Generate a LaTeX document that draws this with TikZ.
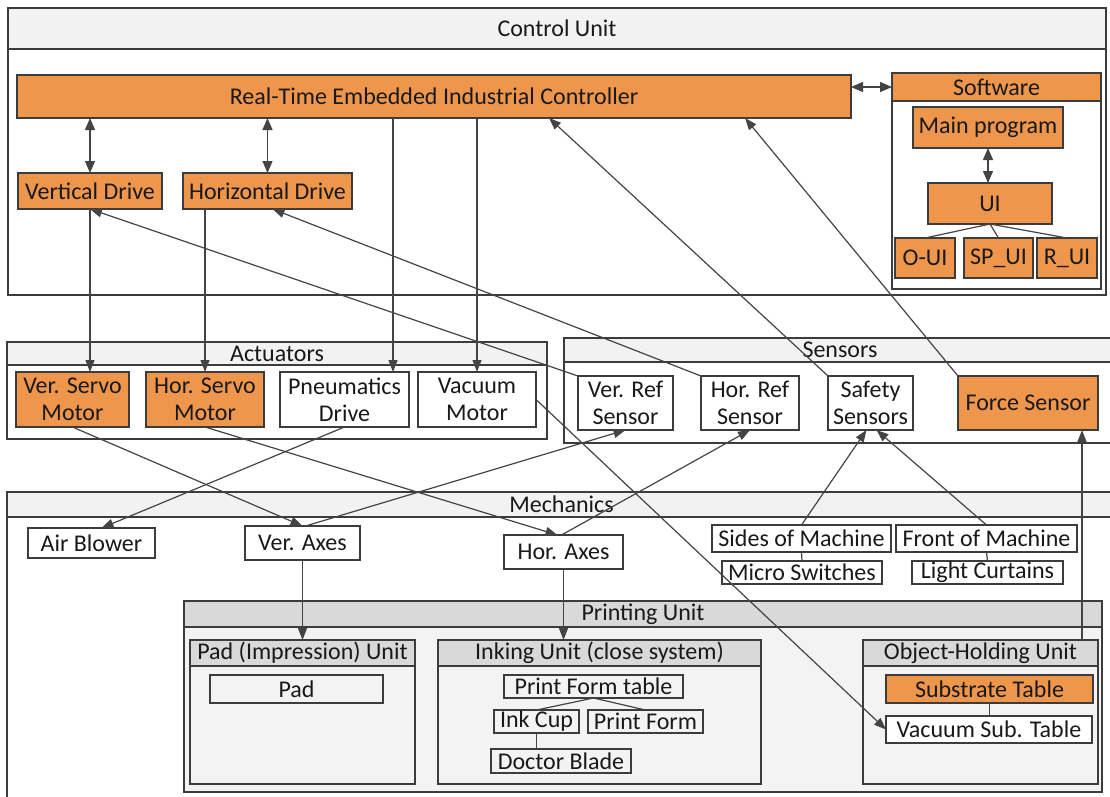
\documentclass[tikz,border=0pt]{standalone}
\usepackage{fontspec}
\setmainfont{Carlito}
\usetikzlibrary{arrows.meta}
\definecolor{orng}{RGB}{238,150,76}
\definecolor{hdrl}{RGB}{242,242,242}
\definecolor{hdrd}{RGB}{217,217,217}
\definecolor{pbg}{RGB}{243,243,243}
\definecolor{linec}{RGB}{60,60,60}
\definecolor{arrc}{RGB}{68,68,68}
\newcommand\bx[7]{\node[#6,anchor=north west,minimum width={#4pt-#2pt},minimum height={#5pt-#3pt}] (#1) at (#2,#3) {#7};}
\tikzset{
  base/.style={draw=linec,line width=1.3pt,inner sep=0.5pt,outer sep=0pt,align=center,text=black!90,font=\fontsize{24}{27}\selectfont},
  cont/.style={base,fill=white},
  box/.style={base,fill=white},
  obox/.style={base,fill=orng},
  hdrlt/.style={base,fill=hdrl},
  hdrdk/.style={base,fill=hdrd},
  pbody/.style={base,fill=pbg},
  ibox/.style={base,fill=pbg},
  arr/.style={draw=arrc,line width=1.2pt,-{Triangle[length=12pt,width=9pt]}},
  dbl/.style={draw=arrc,line width=1.2pt,{Triangle[length=12pt,width=10pt]}-{Triangle[length=12pt,width=10pt]}},
  tree/.style={draw=arrc,line width=1.2pt}
}
\begin{document}
\begin{tikzpicture}[x=1pt,y=-1pt]
\useasboundingbox (0,0) rectangle (1110,796);
\fill[white] (0,0) rectangle (1110,796);
% Control unit
\bx{cu}{8}{8}{1106}{295}{cont}{}
\bx{cuh}{8}{8}{1106}{49}{hdrlt}{Control Unit}
\bx{rt}{17}{75}{851}{118}{obox}{Real-Time Embedded Industrial Controller}
\bx{sw}{892}{73}{1101}{289}{cont}{}
\bx{swh}{892}{73}{1101}{101}{obox}{Software}
\bx{mp}{913}{107}{1063}{148}{obox}{Main program}
\bx{ui}{928}{183}{1052}{224}{obox}{UI}
\bx{oui}{895}{238}{955}{278}{obox}{O-UI}
\bx{spui}{964}{238}{1033}{278}{obox}{SP\_UI}
\bx{rui}{1037}{238}{1097}{278}{obox}{R\_UI}
\bx{vd}{18}{173}{162}{209}{obox}{Vertical Drive}
\bx{hd}{183}{173}{352}{209}{obox}{Horizontal Drive}
% Actuators
\bx{act}{7}{342}{547}{439}{cont}{}
\bx{acth}{7}{342}{547}{365}{hdrlt}{Actuators}
\bx{vsm}{16}{372}{129}{427}{obox}{Ver. Servo\\Motor}
\bx{hsm}{146}{372}{264}{427}{obox}{Hor. Servo\\Motor}
\bx{pd}{280}{372}{409}{427}{box}{Pneumatics\\Drive}
\bx{vm}{418}{372}{536}{427}{box}{Vacuum\\Motor}
% Sensors
\bx{sen}{564}{338}{1116}{443}{cont}{}
\bx{senh}{564}{338}{1116}{362}{hdrlt}{Sensors}
\bx{vrs}{578}{376}{673}{430}{box}{Ver. Ref\\Sensor}
\bx{hrs}{701}{376}{799}{430}{box}{Hor. Ref\\Sensor}
\bx{ss}{828}{376}{913}{430}{box}{Safety\\Sensors}
\bx{fs}{958}{376}{1098}{430}{obox}{Force Sensor}
% Mechanics
\bx{mech}{7}{492}{1116}{810}{cont}{}
\bx{mechh}{7}{492}{1116}{517}{hdrlt}{Mechanics}
\bx{ab}{28}{528}{155}{558}{box}{Air Blower}
\bx{va}{245}{526}{360}{560}{box}{Ver. Axes}
\bx{ha}{504}{535}{623}{569}{box}{Hor. Axes}
\bx{sm}{712}{525}{891}{552}{box}{Sides of Machine}
\bx{fm}{896}{525}{1077}{552}{box}{Front of Machine}
\bx{ms}{722}{561}{882}{584}{box}{Micro Switches}
\bx{lc}{912}{561}{1063}{584}{box}{Light Curtains}
% Printing unit
\bx{pu}{184}{601}{1102}{792}{pbody}{}
\bx{puh}{184}{601}{1102}{627}{hdrdk}{Printing Unit}
\bx{padu}{190}{640}{415}{784}{pbody}{}
\bx{paduh}{190}{640}{415}{666}{hdrdk}{Pad (Impression) Unit}
\bx{pad}{210}{675}{383}{703}{ibox}{Pad}
\bx{iu}{438}{640}{761}{784}{pbody}{}
\bx{iuh}{438}{640}{761}{666}{hdrdk}{Inking Unit (close system)}
\bx{pft}{504}{675}{683}{698}{ibox}{Print Form table}
\bx{ic}{494}{710}{579}{733}{ibox}{Ink Cup}
\bx{pf}{588}{710}{703}{733}{ibox}{Print Form}
\bx{db}{491}{749}{631}{773}{ibox}{Doctor Blade}
\bx{ohu}{863}{640}{1098}{784}{pbody}{}
\bx{ohuh}{863}{640}{1098}{666}{hdrdk}{Object-Holding Unit}
\bx{st}{886}{675}{1093}{703}{obox}{Substrate Table}
\bx{vst}{886}{716}{1092}{743}{box}{Vacuum Sub. Table}
% helper coordinates
\coordinate (pdin) at ([xshift=113pt]pd.north west);
\coordinate (ssin) at ([xshift=532pt]rt.south west);
\coordinate (fsin) at ([xshift=728pt]rt.south west);
\coordinate (ohuout) at ([xshift=-16pt]ohu.north east);
% tree lines
\draw[tree] (ui.south) -- (oui.north);
\draw[tree] (ui.south) -- (spui.north);
\draw[tree] (ui.south) -- (rui.north);
\draw[tree] (sm.south) -- (ms.north);
\draw[tree] (fm.south) -- (lc.north);
\draw[tree] (pft.south) -- (ic.north);
\draw[tree] (pft.south) -- (pf.north);
\draw[tree] (ic.south) -- (ic.south |- db.north);
\draw[tree] (st.south) -- (st.south |- vst.north);
% double arrows
\draw[dbl] (rt.east |- swh.west) -- (swh.west);
\draw[dbl] (vd.north |- rt.south) -- (vd.north);
\draw[dbl] (hd.north |- rt.south) -- (hd.north);
\draw[dbl] (mp.south) -- (mp.south |- ui.north);
% control to actuators
\draw[arr] (vd.south) -- (vd.south |- vsm.north);
\draw[arr] (hsm.north |- hd.south) -- (hsm.north);
\draw[arr] (rt.south -| pdin) -- (pdin);
\draw[arr] (rt.south -| vm.north) -- (vm.north);
% sensors to control
\draw[arr] (vrs.north west) -- (vd.south);
\draw[arr] (hrs.north west) -- ([xshift=5pt]hd.south);
\draw[arr] (ss.north west) -- (ssin);
\draw[arr] (fs.north west) -- (fsin);
% actuators to mechanics
\draw[arr] (vsm.south) -- (va.north);
\draw[arr] (pd.south) -- ([xshift=10pt]ab.north);
\draw[arr] (hsm.south) -- ([xshift=-6pt]ha.north);
\draw[arr] (vm.east) -- (vst.west);
% mechanics to sensors
\draw[arr] ([xshift=3pt]va.north) -- (vrs.south);
\draw[arr] ([xshift=-2pt]ha.north) -- (hrs.south);
\draw[arr] (sm.north) -- ([xshift=-4pt]ss.south);
\draw[arr] (fm.north) -- ([xshift=6pt]ss.south);
\draw[arr] (ohuout) -- (ohuout |- fs.south);
% axes to printing unit
\draw[arr] (va.south) -- (va.south |- padu.north);
\draw[arr] (ha.south) -- (ha.south |- iu.north);
\end{tikzpicture}
\end{document}
